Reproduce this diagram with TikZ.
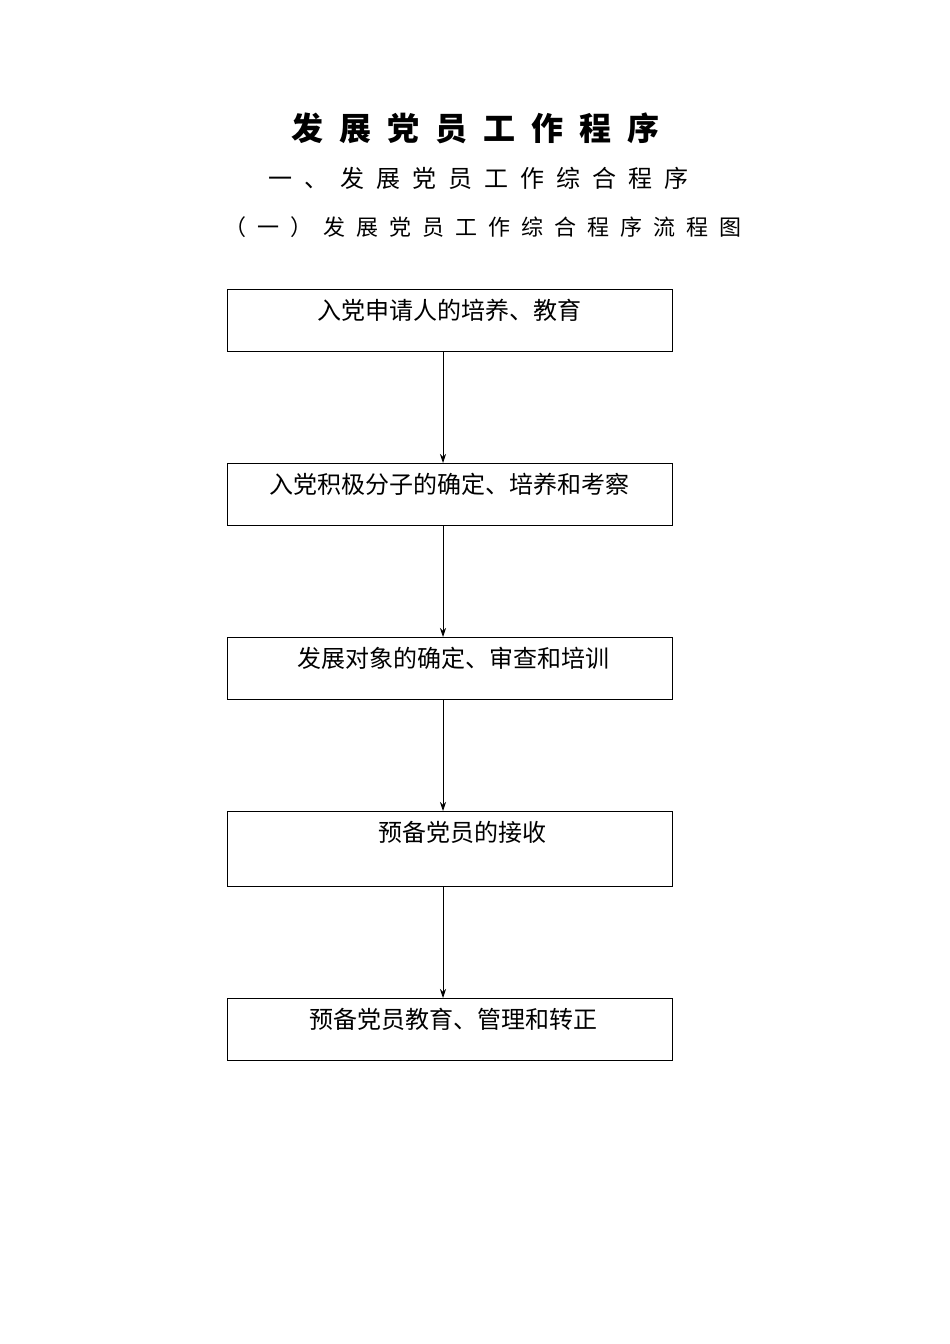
\documentclass[tikz,border=0pt]{standalone}
\usepackage{fontspec}
\newfontfamily\cjk{Noto Sans CJK SC}
\newfontfamily\cjkls[LetterSpace=50]{Noto Sans CJK SC}
\usetikzlibrary{arrows.meta}
\begin{document}
\begin{tikzpicture}[x=1pt,y=-1pt,
  box/.style={draw,line width=0.8pt},
  lbl/.style={font=\cjk\fontsize{24}{26}\selectfont,anchor=center,inner sep=0},
  arr/.style={-{Stealth[length=9pt,width=6pt]},line width=0.8pt}]
\useasboundingbox (0,0) rectangle (950,1344);
\node[font=\cjkls\bfseries\fontsize{32}{34}\selectfont,inner sep=0] (t1) at (475,128) {发展党员工作程序};
\node[font=\cjkls\fontsize{24}{26}\selectfont,inner sep=0] (t2) at (478,178) {一、发展党员工作综合程序};
\node[font=\cjkls\fontsize{22}{24}\selectfont,inner sep=0] (t3) at (483,227) {（一）发展党员工作综合程序流程图};
\draw[box] (227,289) rectangle (672,351); \coordinate (b1) at (443,351);
\draw[box] (227,463) rectangle (672,525); \coordinate (a2) at (443,463); \coordinate (b2) at (443,525);
\draw[box] (227,637) rectangle (672,699); \coordinate (a3) at (443,637); \coordinate (b3) at (443,699);
\draw[box] (227,811) rectangle (672,886); \coordinate (a4) at (443,811); \coordinate (b4) at (443,886);
\draw[box] (227,998) rectangle (672,1060); \coordinate (a5) at (443,998);
\node[lbl] (l1) at (449,310) {入党申请人的培养、教育};
\node[lbl] (l2) at (449,484) {入党积极分子的确定、培养和考察};
\node[lbl] (l3) at (453,658) {发展对象的确定、审查和培训};
\node[lbl] (l4) at (462,832) {预备党员的接收};
\node[lbl] (l5) at (453,1019) {预备党员教育、管理和转正};
\draw[arr] (b1) -- (a2);
\draw[arr] (b2) -- (a3);
\draw[arr] (b3) -- (a4);
\draw[arr] (b4) -- (a5);
\end{tikzpicture}
\end{document}
